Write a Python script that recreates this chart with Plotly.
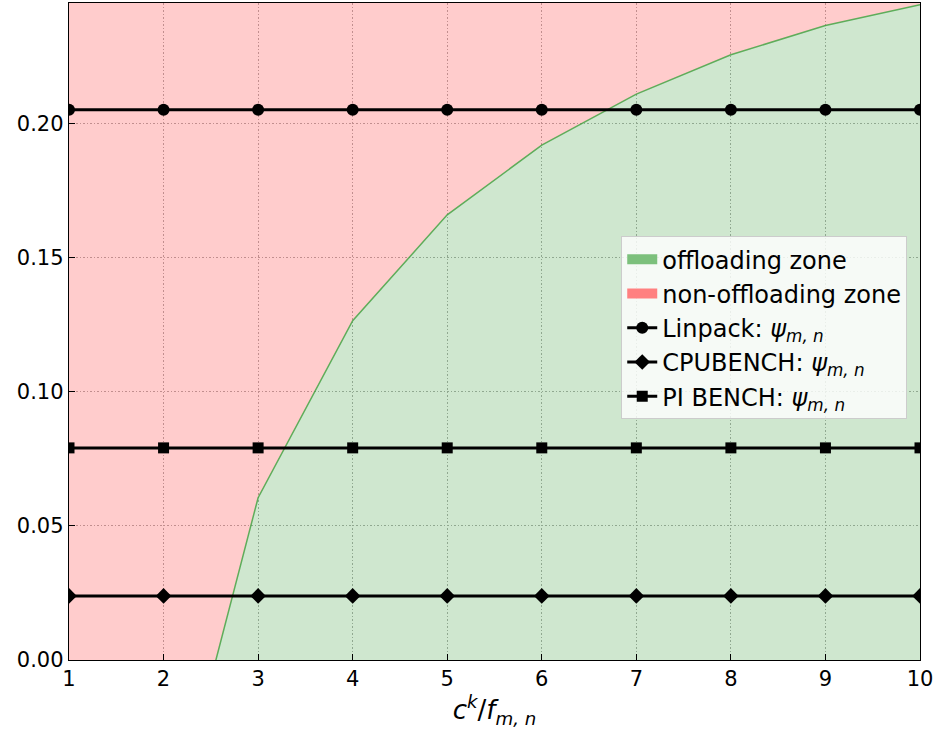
import plotly.graph_objects as go

# data
x_vals = [1, 2, 3, 4, 5, 6, 7, 8, 9, 10]
threshold = [-0.46, -0.075, 0.0605, 0.1265, 0.166, 0.192, 0.211, 0.2257, 0.2366, 0.2444]
linpack = [0.2052] * 10
cpubench = [0.0239] * 10
pibench = [0.0791] * 10
y_top = [0.3] * 10
x_ticks = list(range(1, 11))
y_ticks = [0.00, 0.05, 0.10, 0.15, 0.20]

FONT = "DejaVu Sans"
psi = "<i>ψ</i><sub><i>m, n</i></sub>"

fig = go.Figure()
# green (offloading) region under the curve
fig.add_trace(go.Scatter(x=x_vals, y=threshold, mode="lines", fill="tozeroy",
                         fillcolor="rgba(0,128,0,0.19)", line=dict(width=0),
                         showlegend=False, hoverinfo="skip"))
# red (non-offloading) region above the curve
fig.add_trace(go.Scatter(x=x_vals, y=y_top, mode="lines", fill="tonexty",
                         fillcolor="rgba(255,0,0,0.2)", line=dict(width=0),
                         showlegend=False, hoverinfo="skip"))
# curve edge
fig.add_trace(go.Scatter(x=x_vals, y=threshold, mode="lines",
                         line=dict(color="rgba(60,160,60,0.8)", width=1.5),
                         showlegend=False, hoverinfo="skip"))
# legend entries for zones
fig.add_trace(go.Scatter(x=[None], y=[None], mode="lines",
                         line=dict(color="rgb(124,192,124)", width=10),
                         name="offloading zone", legendgroup="a"))
fig.add_trace(go.Scatter(x=[None], y=[None], mode="lines",
                         line=dict(color="rgb(255,128,128)", width=10),
                         name="non-offloading zone", legendgroup="b"))
# benchmark lines
fig.add_trace(go.Scatter(x=x_vals, y=linpack, mode="lines+markers",
                         line=dict(color="black", width=3),
                         marker=dict(symbol="circle", size=12, color="black"),
                         name="Linpack: " + psi, legendgroup="c"))
fig.add_trace(go.Scatter(x=x_vals, y=cpubench, mode="lines+markers",
                         line=dict(color="black", width=3),
                         marker=dict(symbol="diamond", size=12, color="black"),
                         name="CPUBENCH: " + psi, legendgroup="d"))
fig.add_trace(go.Scatter(x=x_vals, y=pibench, mode="lines+markers",
                         line=dict(color="black", width=3),
                         marker=dict(symbol="square", size=11, color="black"),
                         name="PI BENCH: " + psi, legendgroup="e"))

axis_common = dict(showline=True, linecolor="black", linewidth=1.4, mirror=True,
                   ticks="inside", ticklen=6, tickwidth=1.2, tickcolor="black",
                   showgrid=True, gridcolor="rgb(178,178,178)", gridwidth=1,
                   griddash="1.5px,2px", zeroline=False,
                   tickfont=dict(family=FONT, size=21, color="black"))

fig.update_layout(
    width=936, height=731,
    margin=dict(l=69, r=16, t=3, b=71),
    plot_bgcolor="white", paper_bgcolor="white",
    font=dict(family=FONT, size=21, color="black"),
    xaxis=dict(range=[1, 10], tickvals=x_ticks,
               title=dict(text="<i>c</i><sup><i>k</i></sup>/<i>f</i><sub><i>m, n</i></sub>",
                          font=dict(family=FONT, size=26), standoff=6),
               **axis_common),
    yaxis=dict(range=[0, 0.245], tickvals=y_ticks, tickformat=".2f", **axis_common),
    legend=dict(x=0.985, y=0.645, xanchor="right", yanchor="top",
                traceorder="normal", tracegroupgap=3,
                bgcolor="rgba(255,255,255,0.8)", bordercolor="rgb(204,204,204)",
                borderwidth=1, font=dict(family=FONT, size=24)),
)

fig.write_html("out.html", config={"displayModeBar": False},
               post_script="document.body.style.margin='0';")
